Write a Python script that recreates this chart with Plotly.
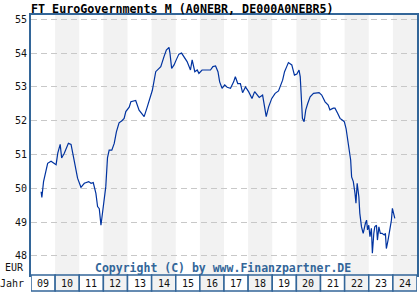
import plotly.graph_objects as go

# ---- data ----
dates = [2009.42, 2009.45, 2009.52, 2009.69, 2009.83, 2010.04, 2010.11, 2010.21, 2010.27, 2010.38,
         2010.55, 2010.66, 2010.73, 2010.84, 2010.93, 2011.07, 2011.21, 2011.39, 2011.49, 2011.58,
         2011.69, 2011.76, 2011.83, 2011.90, 2011.99, 2012.10, 2012.17, 2012.24, 2012.35, 2012.45,
         2012.54, 2012.65, 2012.77, 2012.86, 2012.93, 2013.07, 2013.14, 2013.34, 2013.48, 2013.69,
         2013.82, 2014.03, 2014.17, 2014.38, 2014.51, 2014.61, 2014.72, 2014.76, 2014.83, 2014.93,
         2015.02, 2015.13, 2015.24, 2015.34, 2015.47, 2015.61, 2015.68, 2015.79, 2015.89, 2015.96,
         2016.09, 2016.30, 2016.44, 2016.54, 2016.65, 2016.75, 2016.82, 2016.92, 2017.03, 2017.13,
         2017.27, 2017.40, 2017.47, 2017.57, 2017.68, 2017.77, 2017.89, 2018.02, 2018.16, 2018.27,
         2018.36, 2018.46, 2018.60, 2018.71, 2018.75, 2018.85, 2018.98, 2019.12, 2019.26, 2019.43,
         2019.51, 2019.60, 2019.67, 2019.81, 2019.92, 2020.02, 2020.11, 2020.16, 2020.20, 2020.25,
         2020.32, 2020.39, 2020.47, 2020.57, 2020.71, 2020.84, 2020.94, 2021.05, 2021.19, 2021.32,
         2021.39, 2021.53, 2021.60, 2021.71, 2021.81, 2021.90, 2021.99, 2022.06, 2022.12, 2022.18,
         2022.25, 2022.29, 2022.36, 2022.43, 2022.47, 2022.52, 2022.59, 2022.63, 2022.70, 2022.77,
         2022.81, 2022.86, 2022.91, 2022.95, 2023.00, 2023.05, 2023.11, 2023.15, 2023.21, 2023.25,
         2023.32, 2023.36, 2023.42, 2023.48, 2023.55, 2023.64, 2023.69, 2023.73, 2023.80, 2023.87,
         2023.94, 2023.98, 2024.02, 2024.08]
prices = [49.90, 49.73, 50.20, 50.74, 50.80, 50.70, 51.04, 51.30, 50.90, 51.04,
          51.33, 51.30, 51.04, 50.60, 50.30, 50.03, 50.15, 50.20, 50.15, 50.17,
          49.85, 49.46, 49.40, 48.91, 49.46, 50.05, 50.90, 51.13, 51.13, 51.33,
          51.67, 51.94, 52.00, 52.07, 52.27, 52.40, 52.56, 52.60, 52.31, 52.12,
          52.41, 52.90, 53.45, 53.60, 53.89, 54.09, 54.17, 54.00, 53.55, 53.65,
          53.80, 53.97, 54.00, 53.89, 53.75, 53.50, 53.80, 53.45, 53.50, 53.40,
          53.50, 53.50, 53.50, 53.60, 53.62, 53.45, 53.15, 52.96, 53.06, 52.99,
          52.96, 53.15, 53.30, 53.10, 53.10, 52.83, 53.00, 52.86, 52.66, 52.86,
          52.76, 52.69, 52.76, 52.37, 52.12, 52.41, 52.66, 52.81, 52.88, 53.20,
          53.45, 53.60, 53.72, 53.65, 53.35, 53.38, 53.50, 53.30, 52.61, 52.07,
          51.97, 52.32, 52.51, 52.71, 52.81, 52.81, 52.83, 52.76, 52.56, 52.46,
          52.32, 52.37, 52.37, 52.22, 52.07, 52.02, 51.97, 51.77, 51.43, 51.13,
          50.84, 50.34, 50.20, 49.85, 49.56, 50.15, 49.75, 49.26, 48.86, 48.67,
          48.82, 48.96, 49.06, 48.77, 48.91, 48.57, 48.82, 48.08, 48.67, 48.86,
          48.91, 48.47, 48.86, 48.67, 48.67, 48.62, 48.67, 48.22, 48.47, 48.77,
          49.06, 49.41, 49.31, 49.11]

years = list(range(2009, 2025))
year_labels = ["09", "10", "11", "12", "13", "14", "15", "16", "17", "18",
               "19", "20", "21", "22", "23", "24"]
y_ticks = [48, 49, 50, 51, 52, 53, 54, 55]

title_text = "FT EuroGovernments M (A0NEBR, DE000A0NEBR5)"
copyright_text = "Copyright (C) by www.Finanzpartner.DE"

# ---- styling ----
BORDER = "#336699"
BAND = "#f2f2f2"
LINE = "#0033a0"
MONO = "DejaVu Sans Mono"
W, H = 420, 300
ML, MR, MT, MB = 31, 1, 15, 25
PLOT_H = H - MT - MB
ROW_H = 16
LBL = dict(family=MONO, size=10, color="#111111")

fig = go.Figure()
fig.add_trace(go.Scatter(x=dates, y=prices, mode="lines",
                         line=dict(color=LINE, width=1.2), hoverinfo="skip",
                         showlegend=False))

shapes = []
annotations = []
for i, yr in enumerate(years):
    shaded = (yr % 2 == 0)
    if shaded:
        shapes.append(dict(type="rect", xref="x", yref="paper", x0=yr, x1=yr + 1,
                           y0=0, y1=1, fillcolor=BAND, line=dict(width=0),
                           layer="below"))
    shapes.append(dict(type="rect", xref="x", yref="paper", x0=yr, x1=yr + 1,
                       y0=-ROW_H / PLOT_H, y1=0,
                       fillcolor=BAND if shaded else "white",
                       line=dict(color=BORDER, width=1.5), layer="above"))
    annotations.append(dict(x=yr + 0.5, xref="x", y=-ROW_H / 2 / PLOT_H, yref="paper",
                            text=year_labels[i], showarrow=False,
                            xanchor="center", yanchor="middle", font=LBL))

annotations.append(dict(x=0, xref="paper", y=-ROW_H / 2 / PLOT_H, yref="paper",
                        text="Jahr", showarrow=False, xanchor="right", yanchor="middle",
                        xshift=-5, font=LBL))
annotations.append(dict(x=0, xref="paper", y=47.645, yref="y",
                        text="EUR", showarrow=False, xanchor="right", yanchor="middle",
                        xshift=-5, font=LBL))
annotations.append(dict(x=0.5, xref="paper", y=47.645, yref="y",
                        text="<b>" + copyright_text + "</b>", showarrow=False,
                        xanchor="center", yanchor="middle", xshift=-1,
                        font=dict(family=MONO, size=11.5, color=BORDER)))

fig.update_layout(
    width=W, height=H,
    margin=dict(l=ML, r=MR, t=MT, b=MB, pad=0),
    paper_bgcolor="white", plot_bgcolor="white",
    title=dict(text="<b>" + title_text + "</b>", x=31 / W, xanchor="left", xref="container",
               y=1 - 8.5 / H, yanchor="middle", yref="container",
               font=dict(family=MONO, size=11.7, color="#000000")),
    xaxis=dict(range=[2009, 2025], showticklabels=False, showgrid=False, zeroline=False,
               showline=True, mirror=True, linecolor=BORDER, linewidth=2, ticks=""),
    yaxis=dict(range=[47.437, 55.127], tickvals=y_ticks, ticktext=[str(v) for v in y_ticks],
               showgrid=True, gridcolor="#c8c8c8", griddash="6px,4px", gridwidth=1,
               zeroline=False, showline=True, mirror=True, linecolor=BORDER, linewidth=2,
               ticks="", ticklabelstandoff=0, tickfont=LBL),
    shapes=shapes, annotations=annotations, showlegend=False,
)

fig.write_html("out.html")
